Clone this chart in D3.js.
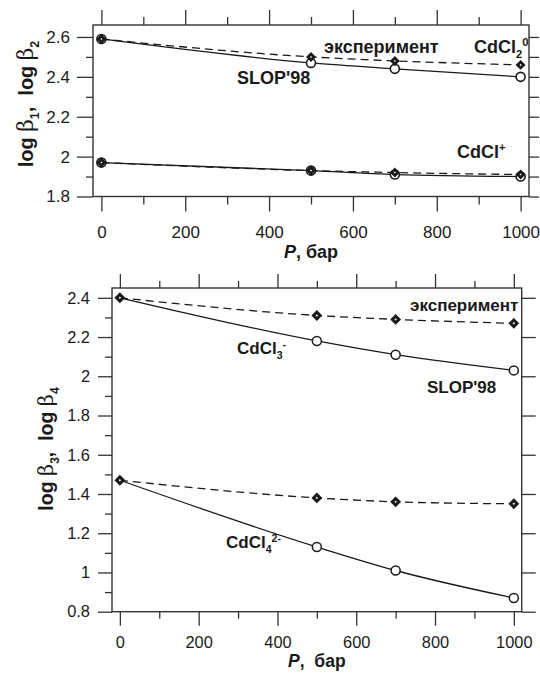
<!DOCTYPE html>
<html>
<head>
<meta charset="utf-8">
<script src="https://cdn.jsdelivr.net/npm/d3@7"></script>
<style>
  body { margin: 0; background: #fff; }
  svg { display: block; font-family: "Liberation Sans", Arial, sans-serif; }
</style>
</head>
<body>
<svg id="chart" width="540" height="673"></svg>
<script>
// pressure, bar
const pressure = [0, 500, 700, 1000];

// top panel: log b2 (CdCl2 0) and log b1 (CdCl+)
const cdcl2Exp = [2.59, 2.50, 2.48, 2.46];
const cdcl2Slop = [2.59, 2.47, 2.44, 2.40];
const cdclExp = [1.97, 1.93, 1.92, 1.91];
const cdclSlop = [1.97, 1.93, 1.91, 1.90];

// bottom panel: log b3 (CdCl3-) and log b4 (CdCl4 2-)
const cdcl3Exp = [2.40, 2.31, 2.29, 2.27];
const cdcl3Slop = [2.40, 2.18, 2.11, 2.03];
const cdcl4Exp = [1.47, 1.38, 1.36, 1.35];
const cdcl4Slop = [1.47, 1.13, 1.01, 0.87];

// ticks
const xMajorTicks = [0, 200, 400, 600, 800, 1000];
const xMinorTicks = [100, 300, 500, 700, 900];
const topYMajor = [1.8, 2.0, 2.2, 2.4, 2.6];
const topYMinor = [1.9, 2.1, 2.3, 2.5];
const botYMajor = [0.8, 1.0, 1.2, 1.4, 1.6, 1.8, 2.0, 2.2, 2.4];
const botYMinor = [0.9, 1.1, 1.3, 1.5, 1.7, 1.9, 2.1, 2.3];

const ink = '#1a1a1a';
const axisInk = '#333';
const nb = '\u00a0';
const fmt = d => String(+d.toFixed(2));

const svg = d3.select('#chart');

function richText(g, x, y, parts, size, opts = {}) {
  const t = g.append('text')
    .attr('x', x).attr('y', y)
    .attr('font-size', size)
    .attr('font-weight', 'bold')
    .attr('fill', ink);
  if (opts.rotate) {
    t.attr('transform', `rotate(-90, ${x}, ${y})`).attr('text-anchor', 'middle');
  }
  let shift = 0;
  parts.forEach(p => {
    const s = t.append('tspan').text(p.t);
    let target = 0;
    if (p.sub) target = size * 0.3;
    if (p.sup) target = -size * 0.38;
    if (target !== shift) s.attr('dy', target - shift);
    shift = target;
    if (p.sub || p.sup) s.attr('font-size', size * 0.62);
    if (p.greek) s.attr('font-weight', 'normal').attr('font-size', size * 1.08)
      .attr('font-family', '"DejaVu Serif", serif');
  });
  return t;
}

function drawPanel(p) {
  const x = d3.scaleLinear().domain([-20, 1020]).range([p.left, p.right]);
  const y = d3.scaleLinear().domain(p.yDomain).range([p.bottom, p.top]);
  const g = svg.append('g');

  const styleAxis = sel => {
    sel.select('.domain').remove();
    sel.selectAll('line').attr('stroke', axisInk).attr('stroke-width', 1.3);
    sel.selectAll('text').attr('fill', ink).attr('font-size', p.tickFont)
      .attr('font-family', '"Liberation Sans", Arial, sans-serif');
  };

  // bottom
  g.append('g').attr('transform', `translate(0,${p.bottom})`)
    .call(d3.axisBottom(x).tickValues(xMajorTicks).tickSize(p.xTick).tickPadding(p.xPad).tickFormat(fmt))
    .call(styleAxis);
  g.append('g').attr('transform', `translate(0,${p.bottom})`)
    .call(d3.axisBottom(x).tickValues(xMinorTicks).tickSize(p.xMinor).tickFormat(''))
    .call(styleAxis);
  // top
  g.append('g').attr('transform', `translate(0,${p.top})`)
    .call(d3.axisTop(x).tickValues(xMajorTicks).tickSize(p.xTick).tickFormat(''))
    .call(styleAxis);
  g.append('g').attr('transform', `translate(0,${p.top})`)
    .call(d3.axisTop(x).tickValues(xMinorTicks).tickSize(p.xMinor).tickFormat(''))
    .call(styleAxis);
  // left
  g.append('g').attr('transform', `translate(${p.left},0)`)
    .call(d3.axisLeft(y).tickValues(p.yMajor).tickSize(p.yTick).tickPadding(p.yPad).tickFormat(fmt))
    .call(styleAxis);
  g.append('g').attr('transform', `translate(${p.left},0)`)
    .call(d3.axisLeft(y).tickValues(p.yMinor).tickSize(p.yMinorTick).tickFormat(''))
    .call(styleAxis);
  // right
  g.append('g').attr('transform', `translate(${p.right},0)`)
    .call(d3.axisRight(y).tickValues(p.rightTicks).tickSize(p.rightTick).tickFormat(''))
    .call(styleAxis);

  g.append('rect')
    .attr('x', p.left).attr('y', p.top)
    .attr('width', p.right - p.left).attr('height', p.bottom - p.top)
    .attr('fill', 'none').attr('stroke', axisInk).attr('stroke-width', 1.4);

  const line = d3.line()
    .x((d, i) => x(pressure[i]))
    .y(d => y(d))
    .curve(d3.curveMonotoneX);

  p.series.forEach(s => {
    g.append('path').datum(s.values)
      .attr('d', line)
      .attr('fill', 'none')
      .attr('stroke', ink)
      .attr('stroke-width', 1.3)
      .attr('stroke-dasharray', s.dashed ? '8,5' : null);
  });

  const diamond = d3.symbol(d3.symbolSquare, p.diamondSize);
  p.series.filter(s => !s.dashed).forEach(s => {
    g.selectAll(null).data(s.values.map((v, i) => [pressure[i], v]).filter(d => d[0] >= p.circleFrom))
      .join('circle')
      .attr('cx', d => x(d[0])).attr('cy', d => y(d[1]))
      .attr('r', p.circleR)
      .attr('fill', '#fff').attr('stroke', ink).attr('stroke-width', p.circleStroke);
  });
  p.series.filter(s => s.dashed).forEach(s => {
    g.selectAll(null).data(s.values.map((v, i) => [pressure[i], v]))
      .join('path')
      .attr('d', diamond)
      .attr('transform', d => `translate(${x(d[0])},${y(d[1])}) rotate(45)`)
      .attr('fill', '#fff').attr('stroke', ink).attr('stroke-width', p.diamondStroke);
  });

  p.labels.forEach(l => richText(g, l.x, l.y, l.parts, p.labelFont));

  richText(g, p.yTitle.x, p.yTitle.y, p.yTitle.parts, p.titleFont, {rotate: true});
  const xt = g.append('text')
    .attr('x', (p.left + p.right) / 2).attr('y', p.xTitleY)
    .attr('text-anchor', 'middle')
    .attr('font-size', p.xTitleFont).attr('font-weight', 'bold').attr('fill', ink);
  xt.append('tspan').attr('font-style', 'italic').text('P');
  xt.append('tspan').text(p.xTitleText);
}

drawPanel({
  left: 93, right: 529, top: 25, bottom: 196.5,
  yDomain: [1.8, 2.66],
  yMajor: topYMajor, yMinor: topYMinor, rightTicks: topYMajor.concat(topYMinor),
  xTick: 15, xMinor: 8, xPad: 14, yTick: 16, yMinorTick: 7, yPad: 7, rightTick: 10,
  tickFont: 17, labelFont: 18, titleFont: 20, xTitleFont: 18,
  circleR: 4.5, circleStroke: 1.6, circleFrom: 0, diamondSize: 18, diamondStroke: 2.8,
  series: [
    {values: cdcl2Slop}, {values: cdcl2Exp, dashed: true},
    {values: cdclSlop}, {values: cdclExp, dashed: true}
  ],
  labels: [
    {x: 324, y: 53, parts: [{t: 'эксперимент'}]},
    {x: 474, y: 53, parts: [{t: 'CdCl'}, {t: '2', sub: true}, {t: '0', sup: true}]},
    {x: 237, y: 84, parts: [{t: "SLOP'98"}]},
    {x: 457, y: 158, parts: [{t: 'CdCl'}, {t: '+', sup: true}]}
  ],
  yTitle: {x: 33, y: 104, parts: [{t: 'log '}, {t: 'β', greek: true}, {t: '1', sub: true},
    {t: ',' + nb + nb + 'log '}, {t: 'β', greek: true}, {t: '2', sub: true}]},
  xTitleY: 258, xTitleText: ', бар'
});

drawPanel({
  left: 112, right: 521.7, top: 288, bottom: 611.7,
  yDomain: [0.8, 2.45],
  yMajor: botYMajor, yMinor: botYMinor, rightTicks: botYMajor,
  xTick: 14, xMinor: 7, xPad: 11, yTick: 14, yMinorTick: 7, yPad: 8, rightTick: 14,
  tickFont: 16.4, labelFont: 17, titleFont: 19.5, xTitleFont: 17.5,
  circleR: 4.5, circleStroke: 1.5, circleFrom: 1, diamondSize: 22, diamondStroke: 3,
  series: [
    {values: cdcl3Slop}, {values: cdcl3Exp, dashed: true},
    {values: cdcl4Slop}, {values: cdcl4Exp, dashed: true}
  ],
  labels: [
    {x: 410, y: 311, parts: [{t: 'эксперимент'}]},
    {x: 237, y: 354, parts: [{t: 'CdCl'}, {t: '3', sub: true}, {t: '-', sup: true}]},
    {x: 427, y: 393, parts: [{t: "SLOP'98"}]},
    {x: 226, y: 548, parts: [{t: 'CdCl'}, {t: '4', sub: true}, {t: '2-', sup: true}]}
  ],
  yTitle: {x: 53, y: 449, parts: [{t: 'log '}, {t: 'β', greek: true}, {t: '3', sub: true},
    {t: ',' + nb + nb + 'log '}, {t: 'β', greek: true}, {t: '4', sub: true}]},
  xTitleY: 667, xTitleText: ',' + nb + nb + 'бар'
});
</script>
</body>
</html>
